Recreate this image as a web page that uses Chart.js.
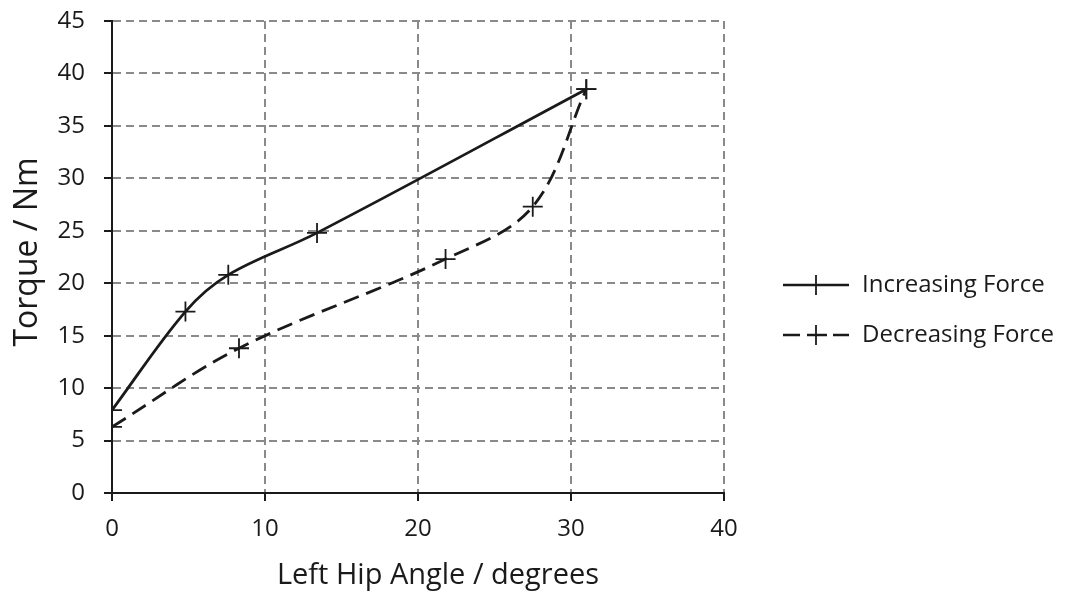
<!DOCTYPE html>
<html>
<head>
<meta charset="utf-8">
<script src="https://cdn.jsdelivr.net/npm/chart.js@4"></script>
<style>
  html, body { margin: 0; padding: 0; background: #fff; }
  #wrap { width: 1067px; height: 592px; }
</style>
</head>
<body>
<div id="wrap"><canvas id="hipChart" width="1067" height="592"></canvas></div>
<script>
// 데이터
const incAngle = [0, 4.8, 7.6, 13.4, 31];
const incTorque = [7.9, 17.3, 20.8, 24.8, 38.5];
const decAngle = [0, 8.3, 21.8, 27.5, 31];
const decTorque = [6.3, 13.8, 22.3, 27.3, 38.5];
const seriesNames = ['Increasing Force', 'Decreasing Force'];
const xTicks = [0, 10, 20, 30, 40];
const yTicks = [0, 5, 10, 15, 20, 25, 30, 35, 40, 45];
const xTitle = 'Left Hip Angle / degrees';
const yTitle = 'Torque / Nm';

const FONT = '"Open Sans", Lato, sans-serif';
const INK = '#1a1a1a';

const toPoints = (xs, ys) => xs.map((x, i) => ({ x: x, y: ys[i] }));

// 축 제목 + 오른쪽 범례 직접 그리기
const sideLegend = {
    id: 'sideLegend',
    afterDraw(chart) {
        const ctx = chart.ctx;
        const rows = [
            { y: 285, dash: [] },
            { y: 335, dash: [17, 8] }
        ];
        ctx.save();
        ctx.fillStyle = INK;
        ctx.textAlign = 'center';
        ctx.textBaseline = 'middle';
        ctx.font = '29px ' + FONT;
        ctx.fillText(xTitle, 438, 576);
        ctx.save();
        ctx.translate(28, 252);
        ctx.rotate(-Math.PI / 2);
        ctx.font = '32px ' + FONT;
        ctx.fillText(yTitle, 0, 0);
        ctx.restore();

        rows.forEach((r, i) => {
            ctx.strokeStyle = INK;
            ctx.lineWidth = 2.5;
            ctx.setLineDash(r.dash);
            ctx.beginPath();
            ctx.moveTo(783, r.y);
            ctx.lineTo(849, r.y);
            ctx.stroke();
            ctx.setLineDash([]);
            if (i === 1) {
                ctx.fillStyle = '#fff';
                ctx.fillRect(803, r.y - 3, 28, 6);
                ctx.beginPath();
                ctx.moveTo(807, r.y);
                ctx.lineTo(827, r.y);
                ctx.stroke();
            }
            ctx.lineWidth = 1.8;
            ctx.beginPath();
            ctx.moveTo(816, r.y - 10);
            ctx.lineTo(816, r.y + 10);
            ctx.stroke();
            ctx.fillStyle = INK;
            ctx.font = '24px ' + FONT;
            ctx.textAlign = 'left';
            ctx.textBaseline = 'middle';
            ctx.fillText(seriesNames[i], 862, r.y);
        });
        ctx.restore();
    }
};

const gridOpts = {
    color: '#8a8a8a',
    lineWidth: 2,
    tickLength: 8,
    tickColor: INK,
    tickBorderDash: [],
    tickWidth: 2
};

new Chart(document.getElementById('hipChart'), {
    type: 'line',
    data: {
        datasets: [{
            label: seriesNames[0],
            data: toPoints(incAngle, incTorque),
            borderColor: INK,
            borderWidth: 2.8,
            pointStyle: 'cross',
            pointRadius: 10,
            pointBorderWidth: 1.8,
            pointBorderColor: INK,
            tension: 0.35,
            fill: false
        }, {
            label: seriesNames[1],
            data: toPoints(decAngle, decTorque),
            borderColor: INK,
            borderWidth: 2.8,
            borderDash: [16, 8],
            pointStyle: 'cross',
            pointRadius: 10,
            pointBorderWidth: 1.8,
            pointBorderColor: INK,
            tension: 0.35,
            fill: false
        }]
    },
    options: {
        responsive: false,
        animation: false,
        layout: { padding: { top: 21, right: 343 } },
        scales: {
            x: {
                type: 'linear',
                min: 0,
                max: 40,
                afterBuildTicks: axis => { axis.ticks = xTicks.map(v => ({ value: v })); },
                afterFit: axis => {
                    axis.height = 99;
                    axis.paddingLeft = 0;
                    axis.paddingRight = 0;
                },
                ticks: { color: INK, font: { size: 24, family: FONT }, padding: 14 },
                grid: gridOpts,
                border: { display: true, color: INK, width: 2, dash: [8, 5] }
            },
            y: {
                type: 'linear',
                min: 0,
                max: 45,
                afterBuildTicks: axis => { axis.ticks = yTicks.map(v => ({ value: v })); },
                afterFit: axis => {
                    axis.width = 112;
                    axis.paddingTop = 0;
                    axis.paddingBottom = 0;
                },
                ticks: { color: INK, font: { size: 24, family: FONT }, padding: 19 },
                grid: gridOpts,
                border: { display: true, color: INK, width: 2, dash: [8, 5] }
            }
        },
        plugins: {
            legend: { display: false },
            tooltip: { enabled: false }
        }
    },
    plugins: [sideLegend]
});
</script>
</body>
</html>
